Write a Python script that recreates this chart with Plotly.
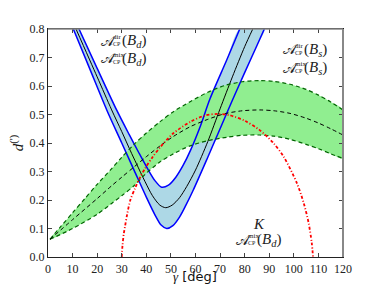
import plotly.graph_objects as go

# ---- data ----
# B_s band (green): upper, centre, lower curves
gs_up_x = [0.8, 5, 10, 15, 20, 25.9, 30, 35, 40, 45.6, 51, 57.8, 65, 72, 79, 86, 92, 98.4, 105, 110, 115, 120]
gs_up_y = [0.062, 0.105, 0.155, 0.205, 0.255, 0.31, 0.35, 0.395, 0.435, 0.475, 0.51, 0.545, 0.578, 0.602, 0.615, 0.619, 0.616, 0.606, 0.588, 0.568, 0.544, 0.516]
gs_mid_x = [0.8, 10, 20, 25.9, 30, 35, 40, 45.6, 51, 57.8, 65, 72, 79, 86, 92, 98.4, 105, 110, 115, 120]
gs_mid_y = [0.062, 0.131, 0.205, 0.25, 0.28, 0.316, 0.352, 0.39, 0.423, 0.457, 0.483, 0.503, 0.513, 0.516, 0.513, 0.504, 0.487, 0.47, 0.45, 0.428]
gs_lo_x = [0.8, 10, 20, 25.9, 30, 35, 39.5, 45.6, 51, 57.8, 65, 72.7, 79, 86, 92, 98.4, 105, 110, 115, 120]
gs_lo_y = [0.062, 0.10, 0.15, 0.188, 0.215, 0.25, 0.29, 0.334, 0.362, 0.39, 0.408, 0.42, 0.427, 0.428, 0.424, 0.413, 0.395, 0.38, 0.362, 0.346]

# B_d band (blue): inner V (upper), centre, outer V (lower)
bd_in_x = [12.6, 20, 27.9, 33, 37, 40.5, 43.5, 46.2, 49, 52, 55, 58, 62, 65.9, 72.7, 78]
bd_in_y = [0.8, 0.662, 0.516, 0.43, 0.365, 0.31, 0.268, 0.245, 0.252, 0.28, 0.322, 0.375, 0.46, 0.555, 0.691, 0.8]
bd_mid_x = [11.4, 20, 25.9, 30, 33.4, 36, 39.5, 42.5, 45.5, 47.9, 50.5, 53.5, 56.4, 60, 65, 70, 75, 80, 83.3]
bd_mid_y = [0.8, 0.632, 0.516, 0.44, 0.375, 0.327, 0.264, 0.215, 0.182, 0.173, 0.182, 0.208, 0.247, 0.305, 0.405, 0.52, 0.632, 0.738, 0.8]
bd_out_x = [10.3, 17, 23.9, 30, 35, 40, 43.5, 46, 48.3, 50.8, 53.5, 56, 59.1, 65, 70, 75, 80, 85, 88]
bd_out_y = [0.8, 0.66, 0.516, 0.40, 0.305, 0.21, 0.148, 0.112, 0.10, 0.11, 0.14, 0.18, 0.235, 0.35, 0.45, 0.55, 0.647, 0.742, 0.8]

# K / A_mix(B_d) curve (red)
k_x = [30, 30.3, 30.8, 31.3, 32.2, 33.5, 35.4, 37.5, 39.5, 42.5, 45.6, 51, 58, 64, 69, 74, 80, 86, 91.7, 96, 101.2, 104, 106, 107.3, 107.8]
k_y = [0, 0.04, 0.08, 0.106, 0.15, 0.2, 0.241, 0.28, 0.311, 0.35, 0.385, 0.434, 0.475, 0.497, 0.502, 0.497, 0.478, 0.446, 0.40, 0.35, 0.26, 0.19, 0.12, 0.049, 0.0]

x_ticks = [0, 10, 20, 30, 40, 50, 60, 70, 80, 90, 100, 110, 120]
y_ticks = [0.0, 0.1, 0.2, 0.3, 0.4, 0.5, 0.6, 0.7, 0.8]

SERIF = "Liberation Serif"
fig = go.Figure()
SM = 0.8

# blue band fill
fig.add_trace(go.Scatter(x=bd_out_x + bd_in_x[::-1], y=bd_out_y + bd_in_y[::-1],
                         fill="toself", fillcolor="#add8e6", mode="lines",
                         line=dict(width=0, shape="spline", smoothing=SM), hoverinfo="skip", showlegend=False))
# green band fill
fig.add_trace(go.Scatter(x=gs_up_x + gs_lo_x[::-1], y=gs_up_y + gs_lo_y[::-1],
                         fill="toself", fillcolor="#90ee90", mode="lines",
                         line=dict(width=0, shape="spline", smoothing=SM), hoverinfo="skip", showlegend=False))
# blue edges and centre line
for xs, ys in [(bd_out_x, bd_out_y), (bd_in_x, bd_in_y)]:
    fig.add_trace(go.Scatter(x=xs, y=ys, mode="lines", showlegend=False,
                             line=dict(color="#0000ff", width=1.5, shape="spline", smoothing=SM)))
fig.add_trace(go.Scatter(x=bd_mid_x, y=bd_mid_y, mode="lines", showlegend=False,
                         line=dict(color="black", width=1, shape="spline", smoothing=SM)))
# green dashed edges and centre
for xs, ys in [(gs_up_x, gs_up_y), (gs_lo_x, gs_lo_y)]:
    fig.add_trace(go.Scatter(x=xs, y=ys, mode="lines", showlegend=False,
                             line=dict(color="#006400", width=1.2, dash="4px,3px", shape="spline", smoothing=SM)))
fig.add_trace(go.Scatter(x=gs_mid_x, y=gs_mid_y, mode="lines", showlegend=False,
                         line=dict(color="black", width=1, dash="4px,3px", shape="spline", smoothing=SM)))
# red curve
fig.add_trace(go.Scatter(x=k_x, y=k_y, mode="lines", showlegend=False,
                         line=dict(color="red", width=1.8, dash="3px,2px,1px,2px", shape="spline", smoothing=SM)))

axis_common = dict(showgrid=False, zeroline=False, ticks="inside", ticklen=4, tickwidth=0.8,
                   tickcolor="#444", showline=True, linecolor="#222", linewidth=1, mirror="ticks",
                   automargin=False, tickfont=dict(family=SERIF, size=12, color="#222"))
fig.update_xaxes(range=[0, 120], tickvals=x_ticks, ticktext=[str(v) for v in x_ticks], ticklabelstandoff=1,
                 **axis_common)
fig.update_yaxes(range=[0, 0.8], tickvals=y_ticks, ticktext=[f"{v:.1f}" for v in y_ticks],
                 title=dict(text="<i>d</i><sup>(')</sup>", font=dict(family=SERIF, size=15, color="#111"), standoff=2),
                 **axis_common)

# grey top/right frame overlay
fig.add_shape(type="line", xref="paper", yref="paper", x0=0, x1=1, y0=1, y1=1, line=dict(color="#888", width=1.5))
fig.add_shape(type="line", xref="paper", yref="paper", x0=1, x1=1, y0=0, y1=1, line=dict(color="#888", width=2))

def px2paper(px, py):
    return (px - 48) / 295, (257 - py) / 228

# x-axis title as annotation
tx, ty = px2paper(195, 286)
fig.add_annotation(x=tx, y=ty, xref="paper", yref="paper", showarrow=False,
                   text="<span style='font-family:Liberation Serif'><i>γ</i></span> [deg]",
                   font=dict(family="DejaVu Sans", size=13, color="#111"), xanchor="center", yanchor="bottom")

def label(x_left, yc, sup, sub):
    x, y = px2paper(x_left, yc)
    fig.add_annotation(x=x, y=y, xref="paper", yref="paper", text="𝒜", showarrow=False,
                       font=dict(family=SERIF, size=14, color="#222"), xanchor="left", yanchor="middle")
    xs, ys_up = px2paper(x_left + 12, yc - 4)
    fig.add_annotation(x=xs, y=ys_up, xref="paper", yref="paper", text=sup, showarrow=False,
                       font=dict(family=SERIF, size=7, color="#222"), xanchor="left", yanchor="middle")
    xs, ys_dn = px2paper(x_left + 12, yc + 3)
    fig.add_annotation(x=xs, y=ys_dn, xref="paper", yref="paper", text="CP", showarrow=False,
                       font=dict(family=SERIF, size=6, color="#222"), xanchor="left", yanchor="middle")
    xr, yr = px2paper(x_left + 21, yc)
    fig.add_annotation(x=xr, y=yr, xref="paper", yref="paper",
                       text=f"(<i>B<sub>{sub}</sub></i>)", showarrow=False,
                       font=dict(family=SERIF, size=15, color="#222"), xanchor="left", yanchor="middle")

label(99, 41, "dir", "d")
label(99, 59, "mix", "d")
label(281, 50, "dir", "s")
label(281, 68, "mix", "s")
label(234, 240, "mix", "d")
kx, ky = px2paper(259, 224)
fig.add_annotation(x=kx, y=ky, xref="paper", yref="paper", text="<i>K</i>", showarrow=False,
                   font=dict(family=SERIF, size=15, color="#222"), xanchor="center", yanchor="middle")

fig.update_layout(width=381, height=286, margin=dict(l=48, r=38, t=29, b=29),
                  plot_bgcolor="white", paper_bgcolor="white")
fig.write_html("out.html", config={"displayModeBar": False},
               post_script="document.body.style.margin='0';document.body.style.overflow='hidden';")
